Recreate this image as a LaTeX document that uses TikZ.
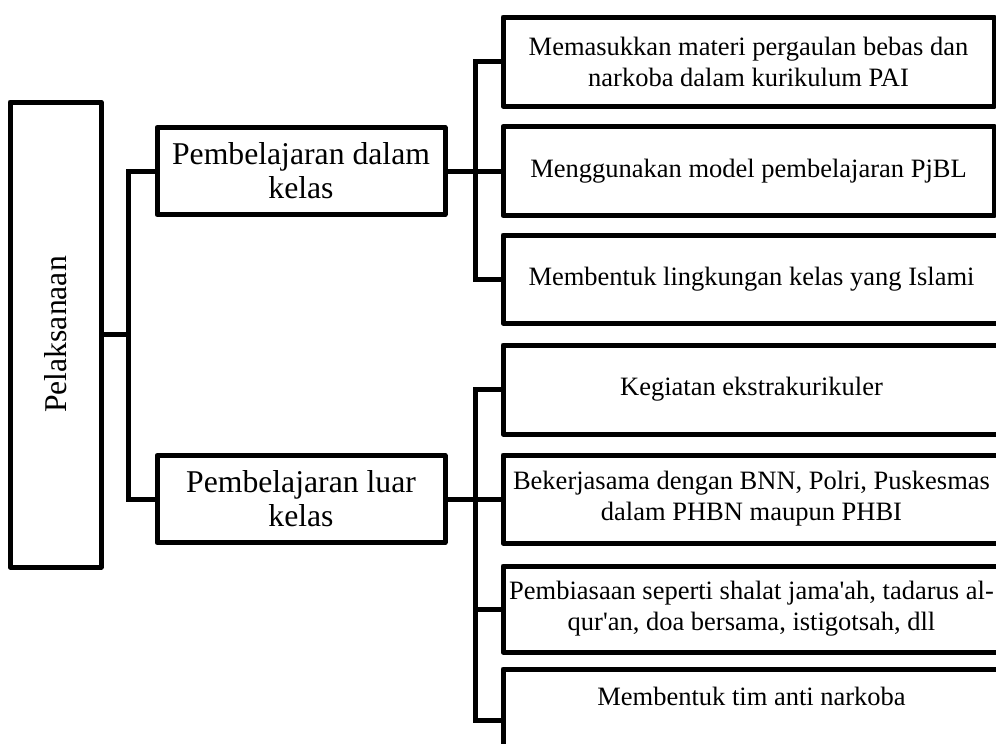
\documentclass[tikz,border=0pt]{standalone}
\usepackage{fontspec}
\setmainfont{Liberation Serif}
\usepackage{graphicx}
\begin{document}
\begin{tikzpicture}[x=1pt,y=-1pt,
  box/.style={draw=black, line width=5pt, line join=round, inner sep=0pt, align=center},
  small/.style={font=\fontsize{26.5}{31}\selectfont},
  mid/.style={font=\fontsize{31.7}{34}\selectfont},
  conn/.style={draw=black, line width=5pt, line join=miter}]
\useasboundingbox (0,0) rectangle (996,744);
\clip (0,0) rectangle (996,744);
\fill[white] (0,0) rectangle (996,744);

% root
\node[box, mid, minimum width=91pt, minimum height=465pt] (root) at (55.5,334.5)
  {\rotatebox{90}{Pelaksanaan}};

% second level
\node[box, mid, minimum width=288pt, minimum height=87pt] (dalam) at (301,171)
  {Pembelajaran dalam\\kelas};
\node[box, mid, minimum width=288pt, minimum height=87pt] (luar) at (301,499)
  {Pembelajaran luar\\kelas};

% leaves of "dalam kelas"
\node[box, small, minimum width=491pt, minimum height=89pt] (r1) at (748.5,61.5)
  {Memasukkan materi pergaulan bebas dan\\narkoba dalam kurikulum PAI};
\node[box, small, minimum width=491pt, minimum height=89pt] (r2) at (748.5,171)
  {Menggunakan model pembelajaran PjBL};
\node[box, small, minimum width=497pt, minimum height=88pt] (r3) at (751.5,279)
  {Membentuk lingkungan kelas yang Islami};

% leaves of "luar kelas"
\node[box, small, minimum width=497pt, minimum height=89pt] (r4) at (751.5,389.5)
  {Kegiatan ekstrakurikuler};
\node[box, small, minimum width=497pt, minimum height=88pt] (r5) at (751.5,499)
  {Bekerjasama dengan BNN, Polri, Puskesmas\\dalam PHBN maupun PHBI};
\node[box, small, minimum width=497pt, minimum height=86pt] (r6) at (751.5,609)
  {Pembiasaan seperti shalat jama\textquotesingle ah, tadarus al-\\qur\textquotesingle an, doa bersama, istigotsah, dll};
\node[box, small, minimum width=497pt, minimum height=102pt] (r7) at (751.5,720)
  {\raisebox{15pt}[0pt][0pt]{Membentuk tim anti narkoba}};

% trunk positions
\coordinate (t0) at (128,0);
\coordinate (t1) at (475,0);
\coordinate (t2) at (475,0);

% root to second level
\draw[conn] (dalam.west) -- (t0 |- dalam.west) -- (t0 |- luar.west) -- (luar.west);
\draw[conn] (root.east) -- (t0 |- root.east);

% dalam kelas to leaves
\draw[conn] (r1.west) -- (t1 |- r1.west) -- (t1 |- r3.west) -- (r3.west);
\draw[conn] (dalam.east) -- (r2.west);

% luar kelas to leaves
\draw[conn] (r4.west) -- (t2 |- r4.west) -- (t2 |- r7.west) -- (r7.west);
\draw[conn] (luar.east) -- (r5.west);
\draw[conn] (r6.west) -- (t2 |- r6.west);
\end{tikzpicture}
\end{document}
